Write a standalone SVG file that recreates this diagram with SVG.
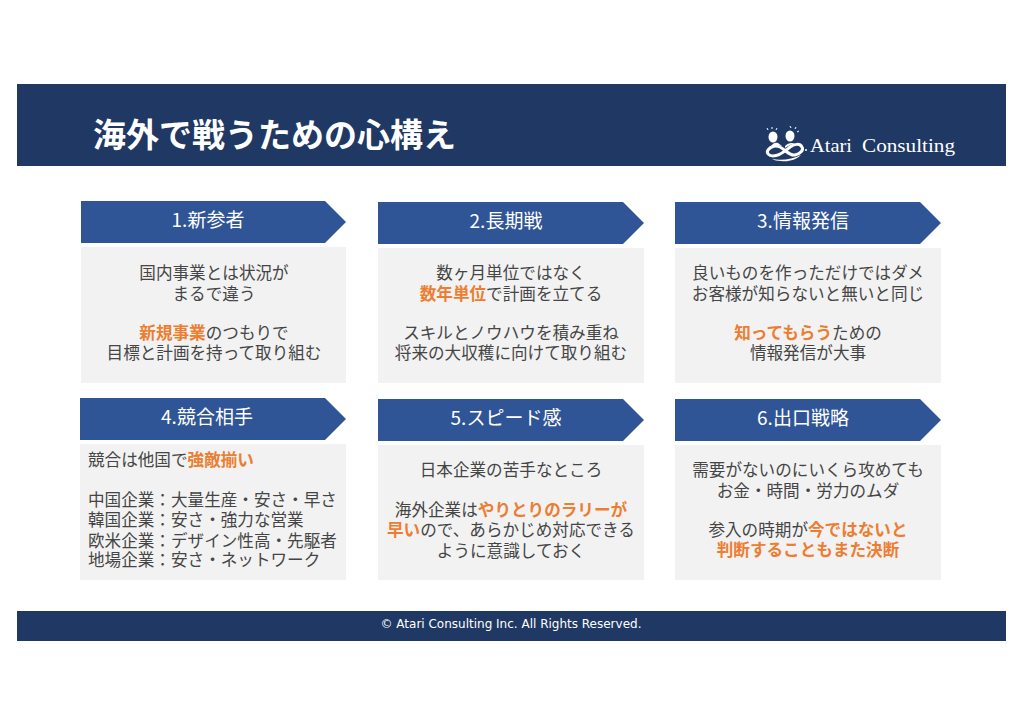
<svg xmlns="http://www.w3.org/2000/svg" width="1024" height="725" viewBox="0 0 1024 725">
<style>
text{font-family:"Noto Sans CJK JP","Noto Sans",sans-serif;text-anchor:middle}
.band{fill:#1f3864}
.hd{fill:#2f5597}
.box{fill:#f2f2f2}
.ht{fill:#fff;font-size:19px;transform:translateY(1px)}
.t{fill:#454545;font-size:16.6px;transform:translateY(1px)}
.l{text-anchor:start}
.o{fill:#ed7d31;font-weight:700}
.s{font-family:"Liberation Serif",serif;font-size:19px;fill:#fff;text-anchor:start}
</style>
<rect width="1024" height="725" fill="#fff"/>
<rect class="band" x="17" y="84" width="989" height="82"/>
<text class="l" x="93" y="146" fill="#fff" font-size="33" font-weight="700" transform="translate(0 1)">海外で戦うための心構え</text>
<g id="logo" fill="#fff">
<ellipse cx="773" cy="137" rx="4.5" ry="5.5"/><ellipse cx="790" cy="136" rx="4.5" ry="5.5"/>
<path d="M768 130l-1-2M772 129v-2M776 130l1-2M791 128l-1-2M795 129l1-2M797 132l2-1" stroke="#fff" stroke-width="1" fill="none"/>
<path d="M768 150c3-4 8-5 12-3 6 3 9 9 15 8 5-1 9-5 7-8-2-4-8-3-12 0-5 4-10 9-17 9-4 0-7-3-5-6z" fill="none" stroke="#fff" stroke-width="3"/>
<path d="M771 146c2-3 5-4 7-3l4 3c-3-1-8-1-11 0zM785 146c2-2 4-3 7-3l3 1c-4 0-7 2-10 4zM772 159c10 2 21 0 29-4-5 5-13 7-20 6-4 0-7-1-9-2z"/>
<circle cx="806" cy="150" r="1"/>
<text class="s" x="810" y="152" textLength="42" lengthAdjust="spacingAndGlyphs">Atari</text>
<text class="s" x="862" y="152" textLength="93" lengthAdjust="spacingAndGlyphs">Consulting</text>
</g>
<g id="node1"><polygon class="hd" points="81,201 325,201 346,222 325,243 81,243"/><text class="ht" x="208" y="226">1.新参者</text>
<rect class="box" x="81" y="247" width="265" height="136"/>
<text class="t" x="214" y="278">国内事業とは状況が</text><text class="t" x="214" y="299">まるで違う</text>
<text class="t" x="214" y="338"><tspan class="o">新規事業</tspan>のつもりで</text><text class="t" x="214" y="358">目標と計画を持って取り組む</text></g>
<g id="node2"><polygon class="hd" points="378,202 623,202 644,223 623,244 378,244"/><text class="ht" x="506" y="227">2.長期戦</text>
<rect class="box" x="378" y="248" width="266" height="135"/>
<text class="t" x="511" y="278">数ヶ月単位ではなく</text><text class="t" x="511" y="299"><tspan class="o">数年単位</tspan>で計画を立てる</text>
<text class="t" x="511" y="338">スキルとノウハウを積み重ね</text><text class="t" x="511" y="358">将来の大収穫に向けて取り組む</text></g>
<g id="node3"><polygon class="hd" points="675,202 920,202 941,223 920,244 675,244"/><text class="ht" x="803" y="227">3.情報発信</text>
<rect class="box" x="675" y="248" width="266" height="135"/>
<text class="t" x="808" y="278">良いものを作っただけではダメ</text><text class="t" x="808" y="299">お客様が知らないと無いと同じ</text>
<text class="t" x="808" y="338"><tspan class="o">知ってもらう</tspan>ための</text><text class="t" x="808" y="358">情報発信が大事</text></g>
<g id="node4"><polygon class="hd" points="80,398 325,398 346,419 325,440 80,440"/><text class="ht" x="207" y="423">4.競合相手</text>
<rect class="box" x="80" y="444" width="266" height="136"/>
<text class="t l" x="88" y="465">競合は他国で<tspan class="o">強敵揃い</tspan></text>
<text class="t l" x="88" y="505">中国企業：大量生産・安さ・早さ</text><text class="t l" x="88" y="525">韓国企業：安さ・強力な営業</text>
<text class="t l" x="88" y="546">欧米企業：デザイン性高・先駆者</text><text class="t l" x="88" y="565">地場企業：安さ・ネットワーク</text></g>
<g id="node5"><polygon class="hd" points="378,399 623,399 644,420 623,441 378,441"/><text class="ht" x="506" y="424">5.スピード感</text>
<rect class="box" x="378" y="445" width="266" height="135"/>
<text class="t" x="511" y="475">日本企業の苦手なところ</text>
<text class="t" x="511" y="515">海外企業は<tspan class="o">やりとりのラリーが</tspan></text><text class="t" x="511" y="535"><tspan class="o">早い</tspan>ので、あらかじめ対応できる</text><text class="t" x="511" y="556">ように意識しておく</text></g>
<g id="node6"><polygon class="hd" points="675,399 920,399 941,420 920,441 675,441"/><text class="ht" x="803" y="424">6.出口戦略</text>
<rect class="box" x="675" y="445" width="266" height="135"/>
<text class="t" x="808" y="475">需要がないのにいくら攻めても</text><text class="t" x="808" y="496">お金・時間・労力のムダ</text>
<text class="t" x="808" y="535">参入の時期が<tspan class="o">今ではないと</tspan></text><text class="t" x="808" y="555"><tspan class="o">判断することもまた決断</tspan></text></g>
<rect class="band" x="17" y="611" width="989" height="30"/>
<text x="511" y="628" fill="#fff" font-size="12" style="font-family:'DejaVu Sans',sans-serif">© Atari Consulting Inc. All Rights Reserved.</text>
<g id="connectors"/>
</svg>
